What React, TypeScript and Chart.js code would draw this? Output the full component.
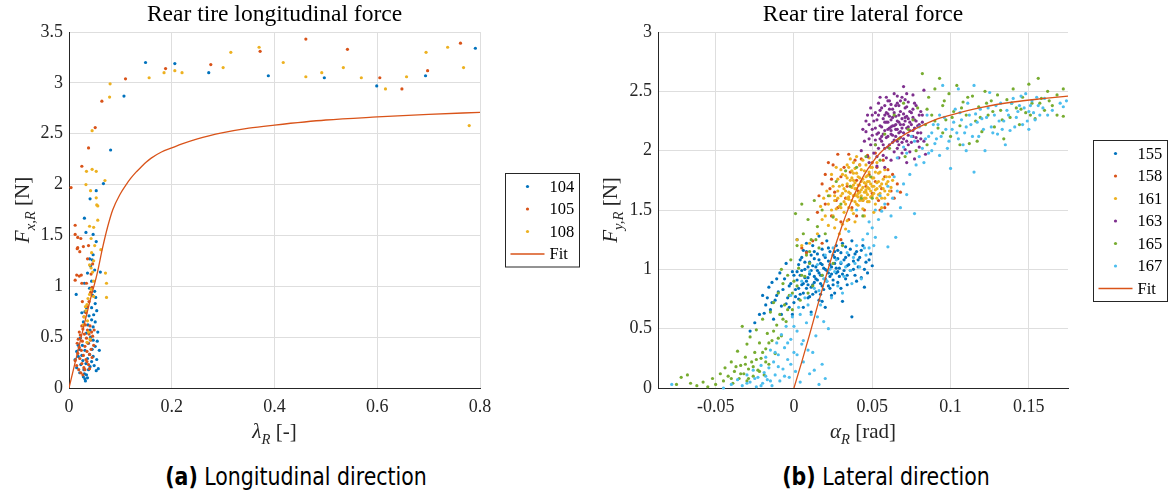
import React, { useEffect, useRef } from "react";
import { Chart, registerables } from "chart.js";
Chart.register(...registerables);

// ---------- Data: (a) longitudinal ----------
const longSeriesNames = ["104", "105", "108"];
const long104: number[][] = [
  [0.012,0.28],[0.015,0.20],[0.018,0.31],[0.021,0.15],[0.023,0.23],[0.028,0.11],[0.031,0.09],[0.034,0.13],[0.029,0.18],[0.038,0.18],
  [0.041,0.21],[0.044,0.26],[0.047,0.31],[0.054,0.28],[0.057,0.19],[0.059,0.37],[0.051,0.41],[0.047,0.47],[0.055,0.46],[0.038,0.44],
  [0.031,0.37],[0.025,0.32],[0.015,0.36],[0.018,0.42],[0.034,0.54],[0.041,0.57],[0.047,0.60],[0.044,0.67],[0.051,0.65],[0.028,0.65],
  [0.025,0.74],[0.031,0.75],[0.034,0.79],[0.044,0.79],[0.054,0.76],[0.051,0.83],[0.014,0.92],[0.032,0.07],[0.036,0.10],[0.030,0.14],
  [0.040,0.33],[0.036,0.29],[0.026,0.42],[0.022,0.49],[0.045,0.38],[0.049,0.22],[0.033,0.24],[0.027,0.27],[0.042,0.50],[0.037,0.62],
  [0.046,0.91],[0.050,0.95],[0.040,0.98],[0.056,0.55],[0.053,0.17],[0.020,0.38],[0.039,0.71],[0.048,0.72],
  [0.030,1.03],[0.036,1.13],[0.042,1.20],[0.045,1.26],[0.047,1.31],[0.040,1.27],[0.061,1.14],[0.053,1.44],[0.047,1.51],[0.033,1.53],
  [0.030,1.67],[0.041,1.86],[0.053,1.94],[0.067,2.01],[0.081,2.34],[0.107,2.87],[0.149,3.20],[0.206,3.19],[0.272,3.10],[0.388,3.07],
  [0.497,3.05],[0.599,2.97],[0.694,3.07],[0.791,3.34],[0.044,1.05],[0.050,1.16],[0.052,0.89]
];
const long105: number[][] = [
  [0.012,0.27],[0.015,0.22],[0.017,0.34],[0.019,0.18],[0.020,0.40],[0.021,0.29],[0.022,0.52],[0.023,0.15],[0.024,0.37],[0.025,0.24],
  [0.026,0.46],[0.027,0.58],[0.028,0.32],[0.029,0.20],[0.030,0.53],[0.031,0.41],[0.032,0.62],[0.033,0.28],[0.034,0.49],[0.035,0.36],
  [0.036,0.57],[0.037,0.44],[0.038,0.23],[0.039,0.53],[0.040,0.33],[0.041,0.61],[0.042,0.47],[0.043,0.38],[0.044,0.55],[0.045,0.30],
  [0.046,0.51],[0.048,0.42],[0.049,0.57],[0.025,0.61],[0.029,0.70],[0.033,0.74],[0.036,0.80],[0.039,0.85],[0.042,0.94],[0.045,0.99],
  [0.026,0.85],[0.020,0.55],[0.018,0.48],[0.016,0.44],[0.031,0.18],[0.035,0.26],[0.040,0.19],[0.027,0.13],
  [0.015,1.11],[0.020,1.10],[0.024,1.11],[0.025,1.03],[0.034,1.03],[0.012,1.06],[0.036,1.27],[0.028,1.39],[0.038,1.40],[0.021,1.34],
  [0.017,1.38],[0.016,1.37],[0.023,1.47],[0.017,1.48],[0.012,1.51],[0.012,1.60],[0.004,1.97],[0.025,2.18],[0.038,2.36],[0.051,2.56],
  [0.064,2.82],[0.110,3.04],[0.188,3.14],[0.276,3.18],[0.372,3.31],[0.461,3.43],[0.542,3.33],[0.605,3.05],[0.648,2.94],[0.698,3.12],
  [0.762,3.39],[0.046,1.22],[0.043,1.12]
];
const long108: number[][] = [
  [0.030,0.70],[0.033,0.76],[0.035,0.82],[0.037,0.88],[0.032,0.80],[0.040,0.92],[0.043,0.97],[0.028,0.62],[0.036,0.66],[0.048,0.90],
  [0.046,1.14],[0.043,1.18],[0.040,1.21],[0.048,1.25],[0.044,1.33],[0.050,1.40],[0.043,1.47],[0.062,1.36],[0.071,1.13],[0.073,1.03],
  [0.073,0.89],[0.040,1.59],[0.048,1.58],[0.056,1.65],[0.054,1.80],[0.056,1.79],[0.053,1.87],[0.042,1.94],[0.033,2.00],[0.070,2.04],
  [0.034,2.13],[0.045,2.15],[0.053,2.13],[0.045,2.53],[0.079,2.86],[0.080,2.99],[0.156,3.05],[0.185,3.10],[0.206,3.12],[0.220,3.10],
  [0.300,3.15],[0.315,3.30],[0.370,3.35],[0.417,3.20],[0.461,3.06],[0.492,3.10],[0.534,3.15],[0.569,3.05],[0.616,2.94],[0.657,3.06],
  [0.695,3.30],[0.737,3.35],[0.768,3.15],[0.779,2.58],[0.038,0.55],[0.041,0.48],[0.035,0.45],[0.048,1.05]
];
const longFitX = [0, 0.02, 0.04, 0.055, 0.065, 0.075, 0.085, 0.1, 0.11, 0.12, 0.13, 0.14, 0.15, 0.16, 0.18, 0.2, 0.22, 0.25, 0.3, 0.35, 0.4, 0.5, 0.6, 0.7, 0.8];
const longFitY = [0, 0.42, 0.84, 1.13, 1.37, 1.58, 1.75, 1.91, 1.99, 2.06, 2.12, 2.17, 2.22, 2.26, 2.32, 2.36, 2.40, 2.45, 2.51, 2.555, 2.585, 2.635, 2.665, 2.69, 2.71];
const longXTicks = [0, 0.2, 0.4, 0.6, 0.8];
const longYTicks = [0, 0.5, 1, 1.5, 2, 2.5, 3, 3.5];

// ---------- Data: (b) lateral ----------
const latSeriesNames = ["155", "158", "161", "163", "165", "167"];
const lat155: number[][] = [
  [-0.022,0.62],[-0.018,0.70],[-0.020,0.78],[-0.015,0.66],[-0.012,0.74],[-0.016,0.85],[-0.010,0.81],[-0.008,0.69],[-0.006,0.92],[-0.009,0.97],
  [-0.004,0.76],[-0.003,0.86],[-0.001,0.98],[0.000,0.72],[0.001,0.83],[0.002,0.91],[0.003,1.04],[0.004,0.79],[0.004,0.95],[0.005,1.10],
  [0.006,0.68],[0.006,0.88],[0.007,1.00],[0.008,0.84],[0.008,1.15],[0.009,0.93],[0.010,1.06],[0.010,0.77],[0.011,0.99],[0.012,0.87],
  [0.012,1.20],[0.013,0.94],[0.013,1.09],[0.014,0.81],[0.014,1.02],[0.015,0.91],[0.015,1.13],[0.016,0.97],[0.016,0.74],[0.017,1.05],
  [0.017,0.88],[0.018,1.17],[0.018,0.95],[0.019,1.01],[0.019,0.83],[0.020,1.10],[0.020,0.92],[0.021,1.24],[0.021,0.99],[0.022,0.86],
  [0.022,1.07],[0.023,0.94],[0.023,1.15],[0.024,1.02],[0.024,0.78],[0.025,1.12],[0.025,0.91],[0.026,1.05],[0.027,0.97],[0.027,1.20],
  [0.028,0.89],[0.028,1.09],[0.029,1.01],[0.030,1.14],[0.030,0.84],[0.031,0.96],[0.032,1.08],[0.033,1.19],[0.033,0.92],[0.034,1.03],
  [0.035,1.12],[0.036,0.99],[0.037,1.24],[0.038,1.07],[0.039,0.95],[0.040,1.15],[0.041,1.02],[0.042,1.10],[0.043,0.93],[0.044,1.20],
  [0.046,1.06],[0.047,0.97],[0.049,1.13],[0.037,0.60],[0.045,0.85],[0.050,1.03],[-0.025,0.55],[-0.028,0.48],[-0.013,0.58],[0.002,1.25],
  [0.008,1.22],[0.016,1.28],[-0.005,1.05],[-0.011,0.92],[0.031,0.73],[0.026,0.80],[0.034,0.87],[0.020,0.68],[0.011,0.64],[-0.001,0.62],
  [0.005,0.87],[0.009,1.02],[0.013,0.89],[0.018,1.04],[0.022,0.97],[0.026,1.15],[0.003,0.75],[0.007,0.93],[0.011,1.12],[0.017,0.79],
  [-0.014,0.72],[-0.011,0.78],[-0.007,0.83],[-0.005,0.71],[-0.002,0.88],[0.000,0.95],[0.001,0.77],[0.003,0.84],[0.005,0.99],[0.006,0.80],
  [0.007,1.06],[0.008,0.90],[0.009,0.76],[0.010,0.96],[0.011,0.85],[0.012,1.03],[0.013,1.15],[0.014,0.92],[0.015,0.99],[0.016,1.08],
  [0.017,0.95],[0.018,0.86],[0.019,1.12],[0.020,1.00],[0.021,0.90],[0.022,1.18],[0.023,1.04],[0.024,0.96],[0.025,0.87],[0.026,1.10],
  [0.027,1.01],[0.028,1.16],[0.029,0.94],[0.030,1.05],[0.031,1.22],[0.032,0.99],[0.033,1.10],[0.035,1.04],[0.036,1.17],[0.038,1.00],
  [0.039,1.13],[0.041,1.08],[0.043,1.16],[0.045,1.00],[0.048,1.08],[-0.019,0.63],[-0.017,0.76],[-0.014,0.89],[-0.008,0.62],[-0.003,0.68],
  [0.002,0.98],[0.004,1.08],[0.006,1.16],[0.009,0.87],[0.012,0.79],[0.018,0.73],[0.023,0.84],[0.028,0.98],[0.034,0.95],[0.040,0.90]
];
const lat158: number[][] = [
  [0.022,1.90],[0.025,1.88],[0.028,1.97],[0.020,1.80],[0.018,1.72],[0.024,1.76],[0.026,1.65],[0.030,1.78],[0.032,1.86],[0.034,1.70],
  [0.036,1.82],[0.038,1.62],[0.040,1.75],[0.042,1.88],[0.044,1.58],[0.046,1.70],[0.048,1.80],[0.050,1.64],[0.052,1.74],[0.054,1.58],
  [0.056,1.68],[0.058,1.78],[0.060,1.55],[0.062,1.66],[0.064,1.60],[0.066,1.72],[0.055,1.50],[0.058,1.52],[0.045,1.50],[0.040,1.45],
  [0.035,1.42],[0.030,1.40],[0.028,1.52],[0.024,1.45],[0.020,1.55],[0.016,1.62],[0.015,1.48],[0.012,1.24],[0.018,1.22],[0.008,1.14],
  [0.005,1.18],[0.030,1.25],[0.033,1.60],[0.037,1.52],[0.041,1.66],[0.043,1.93],[0.047,1.96],[0.050,1.90],[0.053,1.86],[0.057,1.92],
  [0.060,1.84],[0.063,1.80],[0.039,1.92],[0.035,1.97],[0.027,1.58],[0.023,1.68],[0.052,1.98],[0.068,1.65]
];
const lat161: number[][] = [
  [0.020,1.45],[0.022,1.55],[0.023,1.62],[0.024,1.50],[0.025,1.70],[0.026,1.58],[0.027,1.42],[0.028,1.66],[0.028,1.76],[0.029,1.53],
  [0.030,1.62],[0.030,1.84],[0.031,1.71],[0.032,1.48],[0.032,1.57],[0.033,1.66],[0.033,1.79],[0.034,1.60],[0.034,1.72],[0.035,1.52],
  [0.035,1.86],[0.036,1.64],[0.036,1.75],[0.037,1.58],[0.037,1.69],[0.038,1.81],[0.038,1.47],[0.039,1.63],[0.039,1.73],[0.040,1.55],
  [0.040,1.68],[0.041,1.78],[0.041,1.61],[0.042,1.71],[0.042,1.88],[0.043,1.59],[0.043,1.67],[0.044,1.76],[0.044,1.51],[0.045,1.65],
  [0.045,1.83],[0.046,1.72],[0.046,1.60],[0.047,1.69],[0.047,1.79],[0.048,1.57],[0.048,1.74],[0.049,1.66],[0.049,1.86],[0.050,1.70],
  [0.050,1.62],[0.051,1.77],[0.052,1.67],[0.052,1.55],[0.053,1.73],[0.054,1.63],[0.054,1.81],[0.055,1.70],[0.056,1.60],[0.057,1.76],
  [0.058,1.66],[0.059,1.72],[0.060,1.63],[0.061,1.78],[0.062,1.69],[0.036,1.93],[0.040,1.95],[0.044,1.92],[0.048,1.94],[0.031,1.38],
  [0.034,1.41],[0.026,1.35],[0.022,1.37],[0.018,1.42],[0.017,1.53],[0.021,1.66],[0.019,1.60],[0.024,1.80],[0.027,1.86],[0.015,1.30],
  [0.010,1.22],[0.005,1.20],[0.002,1.25],[0.029,1.30],[0.033,1.34],[0.039,1.40],[0.045,1.45],[0.051,1.48],[0.056,1.52],[0.035,1.61],
  [0.041,1.64],[0.047,1.63],[0.038,1.71],[0.043,1.74],[0.037,1.77],[0.042,1.58],[0.046,1.67],[0.039,1.85],[0.053,1.90],[0.058,1.84],
  [0.028,1.60],[0.029,1.70],[0.030,1.52],[0.031,1.64],[0.031,1.80],[0.032,1.68],[0.033,1.55],[0.034,1.77],[0.035,1.65],[0.035,1.59],
  [0.036,1.70],[0.037,1.83],[0.037,1.50],[0.038,1.62],[0.038,1.75],[0.039,1.57],[0.039,1.68],[0.040,1.81],[0.040,1.62],[0.041,1.71],
  [0.041,1.54],[0.042,1.65],[0.042,1.77],[0.043,1.84],[0.043,1.62],[0.044,1.69],[0.044,1.58],[0.045,1.73],[0.045,1.60],[0.046,1.78],
  [0.046,1.65],[0.047,1.57],[0.047,1.74],[0.048,1.68],[0.048,1.82],[0.049,1.61],[0.049,1.72],[0.050,1.77],[0.051,1.64],[0.051,1.70],
  [0.052,1.82],[0.053,1.60],[0.053,1.68],[0.054,1.74],[0.055,1.64],[0.056,1.72],[0.057,1.68],[0.058,1.60],[0.060,1.74],[0.034,1.88],
  [0.038,1.90],[0.046,1.88],[0.050,1.86],[0.026,1.62],[0.027,1.51],[0.025,1.45],[0.055,1.82],[0.059,1.78],[0.061,1.66],[0.063,1.75]
];
const lat163: number[][] = [
  [0.043,2.00],[0.045,2.08],[0.046,2.16],[0.047,1.95],[0.048,2.22],[0.049,2.05],[0.050,2.13],[0.050,2.30],[0.051,1.98],[0.052,2.19],
  [0.052,2.09],[0.053,2.26],[0.054,2.02],[0.054,2.15],[0.055,2.34],[0.055,2.21],[0.056,2.08],[0.057,2.27],[0.057,1.96],[0.058,2.17],
  [0.058,2.38],[0.059,2.11],[0.059,2.24],[0.060,2.03],[0.060,2.31],[0.061,2.19],[0.061,2.42],[0.062,2.14],[0.062,2.26],[0.063,2.07],
  [0.063,2.35],[0.064,2.21],[0.064,1.99],[0.065,2.29],[0.065,2.12],[0.066,2.40],[0.066,2.18],[0.067,2.24],[0.067,2.05],[0.068,2.33],
  [0.068,2.16],[0.069,2.27],[0.069,2.45],[0.070,2.10],[0.070,2.22],[0.071,2.36],[0.071,2.01],[0.072,2.19],[0.072,2.29],[0.073,2.13],
  [0.073,2.41],[0.074,2.24],[0.075,2.07],[0.075,2.32],[0.076,2.17],[0.077,2.26],[0.078,2.11],[0.078,2.38],[0.079,2.21],[0.080,2.03],
  [0.080,2.30],[0.081,2.15],[0.082,2.24],[0.083,2.08],[0.084,1.97],[0.070,2.54],[0.083,2.51],[0.076,2.47],[0.064,2.48],[0.059,2.45],
  [0.054,2.40],[0.049,2.36],[0.046,2.25],[0.044,2.18],[0.048,1.90],[0.053,1.87],[0.058,1.86],[0.062,1.92],[0.067,1.94],[0.072,1.90],
  [0.077,1.93],[0.074,1.99],[0.069,1.98],[0.066,2.02],[0.061,2.35],[0.063,2.28],[0.058,2.30],[0.056,2.12],[0.071,2.28],[0.068,2.11],
  [0.076,2.35],[0.073,2.20],[0.079,2.15],[0.081,2.33],[0.060,2.18],[0.065,2.22],[0.067,2.38],[0.052,2.32],[0.057,2.05],[0.062,2.20],
  [0.050,2.18],[0.051,2.25],[0.052,2.05],[0.053,2.14],[0.054,2.30],[0.055,2.10],[0.056,2.20],[0.056,2.36],[0.057,2.14],[0.058,2.24],
  [0.058,2.02],[0.059,2.32],[0.060,2.12],[0.060,2.24],[0.061,2.05],[0.061,2.29],[0.062,2.17],[0.062,2.39],[0.063,2.21],[0.063,2.13],
  [0.064,2.32],[0.064,2.09],[0.065,2.18],[0.065,2.38],[0.066,2.25],[0.066,2.08],[0.067,2.30],[0.067,2.15],[0.068,2.22],[0.068,2.42],
  [0.069,2.07],[0.069,2.19],[0.070,2.31],[0.070,2.15],[0.071,2.25],[0.071,2.43],[0.072,2.08],[0.072,2.37],[0.073,2.27],[0.073,2.05],
  [0.074,2.17],[0.074,2.33],[0.075,2.22],[0.076,2.12],[0.076,2.28],[0.077,2.19],[0.077,2.40],[0.078,2.25],[0.079,2.08],[0.080,2.22],
  [0.081,2.10],[0.082,2.30],[0.055,2.45],[0.060,2.42],[0.066,2.46],[0.072,2.48],[0.048,2.10],[0.047,2.30],[0.053,1.95],[0.059,1.94]
];
const lat165: number[][] = [
  [-0.075,0.03],[-0.072,0.09],[-0.068,0.11],[-0.066,0.04],[-0.062,0.02],[-0.058,0.05],[-0.055,0.01],[-0.052,0.08],[-0.050,0.03],[-0.047,0.12],
  [-0.045,0.06],[-0.044,0.17],[-0.042,0.10],[-0.040,0.22],[-0.039,0.04],[-0.038,0.14],[-0.036,0.31],[-0.035,0.08],[-0.034,0.19],[-0.033,0.52],
  [-0.032,0.12],[-0.031,0.26],[-0.030,0.37],[-0.030,0.06],[-0.029,0.16],[-0.028,0.43],[-0.027,0.22],[-0.026,0.10],[-0.025,0.30],[-0.024,0.49],
  [-0.023,0.15],[-0.022,0.38],[-0.021,0.25],[-0.020,0.58],[-0.019,0.11],[-0.018,0.33],[-0.017,0.46],[-0.016,0.20],[-0.015,0.64],[-0.014,0.40],
  [-0.013,0.72],[-0.012,0.29],[-0.011,0.53],[-0.010,0.80],[-0.009,0.62],[-0.008,0.44],[-0.007,0.88],[-0.006,0.70],[-0.005,0.56],[-0.004,0.95],
  [-0.003,0.78],[-0.002,1.08],[-0.001,0.66],[0.000,0.90],[0.001,1.47],[0.002,1.20],[0.003,1.01],[0.004,0.74],[0.005,1.55],[0.006,1.30],
  [0.007,0.94],[0.008,1.12],[0.009,1.42],[0.010,1.05],[0.011,1.25],[0.012,0.86],[0.013,1.58],[0.015,1.36],[0.016,1.18],[0.018,1.50],
  [0.020,1.30],[0.022,1.62],[0.025,1.44],[0.027,1.74],[0.030,1.55],[0.033,1.83],[0.036,1.70],[0.040,1.86],[0.043,1.60],[0.046,1.95],
  [0.049,1.78],[0.052,2.05],[0.055,1.92],[0.058,2.14],[0.061,2.02],[0.064,2.30],[0.067,2.10],[0.070,2.40],[0.073,2.18],[0.076,2.26],
  [0.079,2.36],[0.082,2.65],[0.084,2.22],[0.086,2.45],[0.088,2.30],[0.090,2.52],[0.092,2.19],[0.093,2.61],[0.095,2.38],[0.097,2.26],
  [0.099,2.48],[0.100,2.12],[0.102,2.33],[0.104,2.55],[0.106,2.21],[0.108,2.41],[0.110,2.30],[0.112,2.06],[0.114,2.46],[0.116,2.25],
  [0.118,2.37],[0.120,2.16],[0.122,2.50],[0.124,2.30],[0.126,2.42],[0.128,2.20],[0.130,2.47],[0.132,2.34],[0.134,2.10],[0.136,2.43],
  [0.138,2.28],[0.140,2.52],[0.142,2.36],[0.144,2.22],[0.146,2.45],[0.148,2.32],[0.150,2.56],[0.152,2.40],[0.154,2.27],[0.156,2.61],
  [0.158,2.44],[0.160,2.34],[0.162,2.50],[0.165,2.38],[0.168,2.30],[0.172,2.52],[0.172,2.29],[0.085,2.05],[0.078,2.00],[0.071,1.95],
  [0.106,2.05],[0.117,2.08],[0.095,2.15],[0.018,0.95],[0.025,1.05],[0.031,1.20],[0.009,0.80],[-0.008,1.00],[0.050,1.60],[0.044,1.45],
  [-0.040,0.08],[-0.037,0.18],[-0.034,0.12],[-0.031,0.20],[-0.029,0.08],[-0.026,0.18],[-0.024,0.24],[-0.022,0.14],[-0.020,0.30],[-0.018,0.22],
  [-0.016,0.38],[-0.013,0.48],[-0.010,0.42],[-0.007,0.58],[-0.004,0.66],[-0.001,0.80],[0.002,0.86],[0.005,0.95],[0.010,1.15],[0.014,1.25],
  [0.085,2.35],[0.090,2.25],[0.096,2.42],[0.101,2.28],[0.107,2.36],[0.111,2.45],[0.119,2.28],[0.123,2.40],[0.127,2.33],[0.133,2.26],
  [0.139,2.40],[0.145,2.35],[0.151,2.30],[0.157,2.40],[0.163,2.42],[0.168,2.47]
];
const lat167: number[][] = [
  [-0.078,0.03],[-0.045,0.00],[-0.040,0.03],[-0.036,0.07],[-0.033,0.02],[-0.030,0.11],[-0.028,0.05],[-0.026,0.15],[-0.024,0.01],[-0.023,0.09],
  [-0.021,0.19],[-0.020,0.04],[-0.019,0.13],[-0.018,0.26],[-0.017,0.07],[-0.016,0.17],[-0.015,0.32],[-0.014,0.02],[-0.013,0.22],[-0.012,0.11],
  [-0.011,0.38],[-0.010,0.28],[-0.009,0.06],[-0.008,0.45],[-0.007,0.16],[-0.006,0.34],[-0.005,0.52],[-0.004,0.24],[-0.003,0.09],[-0.002,0.41],
  [-0.001,0.60],[0.000,0.30],[0.001,0.14],[0.002,0.48],[0.003,0.68],[0.004,0.05],[0.005,0.37],[0.006,0.22],[0.008,0.55],[0.010,0.12],
  [0.012,0.30],[0.014,0.44],[0.016,0.03],[0.018,0.20],[0.020,0.08],[0.011,0.62],[0.007,0.76],[0.013,0.84],[0.017,0.70],[0.021,0.90],
  [0.024,0.76],[0.026,0.98],[0.028,0.86],[0.030,1.06],[0.032,0.94],[0.034,1.14],[0.036,0.99],[0.038,1.10],[0.040,1.20],[0.042,1.02],
  [0.044,1.25],[0.046,1.12],[0.048,1.18],[0.050,1.35],[0.052,1.27],[0.054,1.42],[0.056,1.49],[0.058,1.55],[0.060,1.19],[0.062,1.45],
  [0.063,1.60],[0.065,1.27],[0.066,1.66],[0.068,1.52],[0.070,1.72],[0.072,1.63],[0.074,1.80],[0.077,1.47],[0.078,1.88],[0.080,1.95],
  [0.082,2.02],[0.084,2.10],[0.086,1.98],[0.088,2.15],[0.090,2.06],[0.092,2.22],[0.094,2.12],[0.096,2.28],[0.098,2.02],[0.100,1.85],
  [0.101,2.18],[0.103,2.35],[0.105,2.10],[0.107,2.26],[0.109,2.15],[0.111,2.40],[0.113,2.22],[0.115,1.82],[0.116,2.31],[0.118,2.12],
  [0.120,2.27],[0.122,2.00],[0.124,2.36],[0.126,2.20],[0.128,2.30],[0.130,2.14],[0.132,2.40],[0.134,2.25],[0.136,2.34],[0.138,2.17],
  [0.140,2.44],[0.142,2.28],[0.144,2.38],[0.146,2.22],[0.148,2.48],[0.150,2.33],[0.152,2.42],[0.154,2.26],[0.156,2.38],[0.160,2.44],
  [0.165,2.34],[0.170,2.40],[0.172,2.37],[0.174,2.42],[0.095,2.55],[0.105,2.52],[0.115,2.55],[0.125,2.49],[0.085,2.30],[0.080,2.20],
  [0.075,2.12],[0.070,2.03],[0.066,1.94],[0.072,1.98],[0.077,2.08],[0.083,1.90],[0.088,2.00],[0.093,1.96],[0.060,1.70],[0.055,1.62],
  [0.052,1.50],[0.048,1.40],[0.064,1.78],[0.005,0.90],[0.010,0.98],[0.015,1.04],[0.020,1.12],[0.025,1.18],[0.031,0.80],[0.037,0.88],
  [0.043,0.92],[-0.002,0.78],[0.019,0.56],[0.022,0.50],[0.040,1.50],[0.035,1.32],[0.110,2.00],[0.135,2.05],[0.145,2.46],[0.150,2.18],[0.162,2.30],
  [0.086,2.12],[0.089,2.22],[0.091,2.10],[0.093,2.30],[0.097,2.18],[0.099,2.08],[0.102,2.24],[0.104,2.15],[0.106,2.32],[0.108,2.05],
  [0.110,2.20],[0.112,2.30],[0.114,2.12],[0.117,2.24],[0.119,2.35],[0.121,2.18],[0.123,2.28],[0.127,2.15],[0.129,2.38],[0.131,2.25],
  [0.133,2.18],[0.137,2.30],[0.139,2.40],[0.141,2.20],[0.143,2.33],[0.147,2.36],[0.149,2.25],[0.151,2.38],[0.153,2.32],[0.155,2.45],
  [0.157,2.30],[0.159,2.36],[-0.030,0.04],[-0.025,0.08],[-0.021,0.02],[-0.018,0.10],[-0.015,0.06],[-0.010,0.18],[-0.006,0.10],[-0.002,0.20],
  [0.002,0.28],[0.006,0.40],[0.009,0.32],[0.013,0.15],[0.000,0.52],[-0.004,0.38],[-0.012,0.30],[0.004,0.62],[0.009,0.70],[0.015,0.60],
  [0.016,0.82],[0.019,0.92],[0.023,1.00],[0.027,1.08],[0.033,1.02],[0.039,1.05],[0.045,1.18],[0.051,1.20],[0.047,1.30]
];
const latFitX = [0, 0.005, 0.01, 0.015, 0.02, 0.025, 0.03, 0.035, 0.04, 0.045, 0.05, 0.055, 0.06, 0.07, 0.08, 0.09, 0.1, 0.12, 0.14, 0.16, 0.175];
const latFitY = [0, 0.22, 0.45, 0.69, 0.92, 1.14, 1.34, 1.52, 1.67, 1.80, 1.90, 1.98, 2.04, 2.13, 2.20, 2.26, 2.30, 2.365, 2.41, 2.44, 2.46];
const latXTicks = [-0.05, 0, 0.05, 0.1, 0.15];
const latYTicks = [0, 0.5, 1, 1.5, 2, 2.5, 3];

// ---------- Styles ----------
const COLORS = ["#0072BD", "#D95319", "#EDB120", "#7E2F8E", "#77AC30", "#4DBEEE"];
const FIT_COLOR = "#D95319";
const SERIF = "'Liberation Serif', 'DejaVu Serif', serif";
const AXIS_COLOR = "#262626";
const GRID_COLOR = "#dedede";

type Part = { t: string; i?: boolean; s?: boolean };

function drawRich(ctx: CanvasRenderingContext2D, parts: Part[], cx: number, cy: number, fs: number, rotate: boolean) {
  ctx.save();
  ctx.translate(cx, cy);
  if (rotate) ctx.rotate(-Math.PI / 2);
  const fontOf = (p: Part) => `${p.i ? "italic " : ""}${p.s ? fs * 0.7 : fs}px ${SERIF}`;
  let total = 0;
  const widths = parts.map((p) => { ctx.font = fontOf(p); const w = ctx.measureText(p.t).width; total += w; return w; });
  let x = -total / 2;
  ctx.fillStyle = AXIS_COLOR;
  ctx.textBaseline = "alphabetic";
  ctx.textAlign = "left";
  parts.forEach((p, k) => {
    ctx.font = fontOf(p);
    ctx.fillText(p.t, x, fs * 0.32 + (p.s ? fs * 0.28 : 0));
    x += widths[k];
  });
  ctx.restore();
}

const decorPlugin = {
  id: "decor",
  afterDraw(chart: any, _args: any, opts: any) {
    const ctx: CanvasRenderingContext2D = chart.ctx;
    const ca = chart.chartArea;
    const cx = (ca.left + ca.right) / 2;
    ctx.save();
    ctx.font = `23.5px ${SERIF}`;
    ctx.fillStyle = "#000";
    ctx.textAlign = "center";
    ctx.textBaseline = "alphabetic";
    ctx.fillText(opts.title, cx, 21);
    ctx.restore();
    drawRich(ctx, opts.xLabel, cx, 431, 21, false);
    drawRich(ctx, opts.yLabel, opts.yLabelX, (ca.top + ca.bottom) / 2, 21, true);
    const items = opts.legend as { label: string; color: string; line?: boolean }[];
    const step = 22.5;
    const h = (items.length - 1) * step + 26;
    const w = 74;
    const left = Math.round(ca.right + 25) + 0.5;
    const top = Math.round(220 - h / 2) + 0.5;
    ctx.save();
    ctx.fillStyle = "#fff";
    ctx.fillRect(left, top, w, h);
    ctx.strokeStyle = AXIS_COLOR;
    ctx.lineWidth = 1;
    ctx.strokeRect(left, top, w, h);
    items.forEach((it, k) => {
      const y = top + 13 + k * step;
      if (it.line) {
        ctx.strokeStyle = it.color;
        ctx.lineWidth = 1.3;
        ctx.beginPath();
        ctx.moveTo(left + 5, y);
        ctx.lineTo(left + 39, y);
        ctx.stroke();
      } else {
        ctx.fillStyle = it.color;
        ctx.beginPath();
        ctx.arc(left + 22, y, 1.6, 0, Math.PI * 2);
        ctx.fill();
      }
      ctx.fillStyle = "#000";
      ctx.font = `16.5px ${SERIF}`;
      ctx.textAlign = "left";
      ctx.textBaseline = "middle";
      ctx.fillText(it.label, left + 44, y + 1);
    });
    ctx.restore();
  },
};

const fmt = (v: number) => String(Math.round(v * 1000) / 1000);

function makeConfig(p: {
  names: string[]; series: number[][][]; fitX: number[]; fitY: number[];
  xMin: number; xMax: number; yMin: number; yMax: number; xTicks: number[]; yTicks: number[];
  yAxisWidth: number; padRight: number; title: string; xLabel: Part[]; yLabel: Part[]; yLabelX: number;
}) {
  const n = p.series.length;
  const datasets: any[] = p.series.map((pts, i) => ({
    type: "scatter",
    label: p.names[i],
    data: pts.map(([x, y]) => ({ x, y })),
    backgroundColor: COLORS[i],
    borderWidth: 0,
    pointRadius: 1.6,
    pointHoverRadius: 1.6,
    order: n - i,
    clip: 3,
  }));
  datasets.push({
    type: "line",
    label: "Fit",
    data: p.fitX.map((x, i) => ({ x, y: p.fitY[i] })),
    borderColor: FIT_COLOR,
    borderWidth: 1.3,
    pointRadius: 0,
    fill: false,
    cubicInterpolationMode: "monotone",
    order: 0,
  });
  const tickFont = { family: SERIF, size: 18 };
  return {
    type: "scatter",
    data: { datasets },
    options: {
      responsive: false,
      animation: false,
      devicePixelRatio: 1,
      events: [],
      layout: { padding: { left: 0, right: p.padRight, top: 32, bottom: 445 - 388 - 30 } },
      plugins: {
        legend: { display: false },
        tooltip: { enabled: false },
        decor: {
          title: p.title, xLabel: p.xLabel, yLabel: p.yLabel, yLabelX: p.yLabelX,
          legend: [...p.names.map((nm, i) => ({ label: nm, color: COLORS[i] })), { label: "Fit", color: FIT_COLOR, line: true }],
        },
      },
      scales: {
        x: {
          type: "linear", min: p.xMin, max: p.xMax,
          afterBuildTicks: (s: any) => { s.ticks = p.xTicks.map((v) => ({ value: v })); },
          afterFit: (s: any) => { s.height = 30; },
          ticks: { callback: (v: number) => fmt(v), font: tickFont, color: AXIS_COLOR, padding: 8, maxRotation: 0, autoSkip: false },
          grid: { color: GRID_COLOR, drawTicks: false, lineWidth: 1 },
          border: { color: AXIS_COLOR, width: 1 },
        },
        y: {
          type: "linear", min: p.yMin, max: p.yMax,
          afterBuildTicks: (s: any) => { s.ticks = p.yTicks.map((v) => ({ value: v })); },
          afterFit: (s: any) => { s.width = p.yAxisWidth; },
          ticks: { callback: (v: number) => fmt(v), font: tickFont, color: AXIS_COLOR, padding: 6, autoSkip: false },
          grid: { color: GRID_COLOR, drawTicks: false, lineWidth: 1 },
          border: { color: AXIS_COLOR, width: 1 },
        },
      },
    },
    plugins: [decorPlugin],
  };
}

function ChartCanvas({ config, left }: { config: any; left: number }) {
  const ref = useRef<HTMLCanvasElement>(null);
  useEffect(() => {
    const chart = new Chart(ref.current as HTMLCanvasElement, config);
    return () => chart.destroy();
  }, []);
  return (
    <canvas ref={ref} width={587} height={445}
      style={{ position: "absolute", left, top: 0, width: 587, height: 445 }} />
  );
}

const captionStyle: React.CSSProperties = {
  position: "absolute", top: 464, width: 400, textAlign: "center",
  fontFamily: "'DejaVu Sans Condensed', 'DejaVu Sans', sans-serif",
  fontSize: 24.5, lineHeight: "26px", color: "#000", whiteSpace: "nowrap",
  transform: "scaleX(0.93)",
};

export default function App() {
  const cfgA = makeConfig({
    names: longSeriesNames, series: [long104, long105, long108], fitX: longFitX, fitY: longFitY,
    xMin: 0, xMax: 0.8, yMin: 0, yMax: 3.5, xTicks: longXTicks, yTicks: longYTicks,
    yAxisWidth: 69, padRight: 587 - 480, title: "Rear tire longitudinal force",
    xLabel: [{ t: "λ", i: true }, { t: "R", i: true, s: true }, { t: " [-]" }],
    yLabel: [{ t: "F", i: true }, { t: "x,R", i: true, s: true }, { t: " [N]" }], yLabelX: 22,
  });
  const cfgB = makeConfig({
    names: latSeriesNames, series: [lat155, lat158, lat161, lat163, lat165, lat167], fitX: latFitX, fitY: latFitY,
    xMin: -0.0868, xMax: 0.175, yMin: 0, yMax: 3, xTicks: latXTicks, yTicks: latYTicks,
    yAxisWidth: 71, padRight: 587 - 481, title: "Rear tire lateral force",
    xLabel: [{ t: "α", i: true }, { t: "R", i: true, s: true }, { t: " [rad]" }],
    yLabel: [{ t: "F", i: true }, { t: "y,R", i: true, s: true }, { t: " [N]" }], yLabelX: 23,
  });
  return (
    <div style={{ position: "absolute", left: 0, top: 0, width: 1174, height: 498, background: "#fff", overflow: "hidden" }}>
      <ChartCanvas config={cfgA} left={0} />
      <ChartCanvas config={cfgB} left={587} />
      <div style={{ ...captionStyle, left: 296 - 200 }}><b>(a)</b> Longitudinal direction</div>
      <div style={{ ...captionStyle, left: 886 - 200 }}><b>(b)</b> Lateral direction</div>
    </div>
  );
}
